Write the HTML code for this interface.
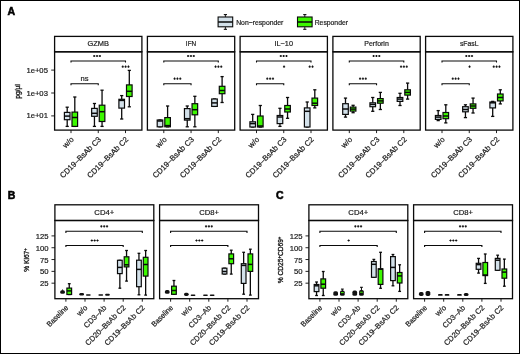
<!DOCTYPE html>
<html><head><meta charset="utf-8"><style>
html,body{margin:0;padding:0;background:#fff;}
svg{display:block;will-change:transform;}
text{font-family:"Liberation Sans", sans-serif;fill:#1a1a1a;stroke:#1a1a1a;stroke-width:0.2px;}
text.st{stroke-width:0.3px;}
text.yt{stroke-width:0.35px;}
text.pl{stroke-width:0.55px;fill:#000;stroke:#000;}
</style></head><body>
<svg width="520" height="354" viewBox="0 0 520 354">
<rect x="0" y="0" width="520" height="354" fill="#fff"/>
<rect x="54.60" y="36.40" width="87.30" height="15.40" fill="#fff" stroke="#0a0a0a" stroke-width="1.3"/>
<text transform="translate(98.25 46.00) scale(0.979 1)" font-size="7.6" text-anchor="middle">GZMB</text>
<rect x="54.60" y="51.80" width="87.30" height="78.30" fill="none" stroke="#0a0a0a" stroke-width="1.3"/>
<line x1="71.00" y1="130.10" x2="71.00" y2="133.10" stroke="#0a0a0a" stroke-width="0.9"/>
<line x1="67.20" y1="107.20" x2="67.20" y2="112.40" stroke="#0a0a0a" stroke-width="1.3"/>
<line x1="67.20" y1="119.70" x2="67.20" y2="126.40" stroke="#0a0a0a" stroke-width="1.3"/>
<line x1="65.60" y1="107.20" x2="68.80" y2="107.20" stroke="#0a0a0a" stroke-width="1.3"/>
<line x1="65.60" y1="126.40" x2="68.80" y2="126.40" stroke="#0a0a0a" stroke-width="1.3"/>
<rect x="64.40" y="112.40" width="5.60" height="7.30" fill="#d3e1ea" stroke="#0a0a0a" stroke-width="1.2"/>
<line x1="64.40" y1="116.10" x2="70.00" y2="116.10" stroke="#0a0a0a" stroke-width="1.5"/>
<line x1="74.80" y1="97.00" x2="74.80" y2="112.10" stroke="#0a0a0a" stroke-width="1.3"/>
<line x1="73.20" y1="97.00" x2="76.40" y2="97.00" stroke="#0a0a0a" stroke-width="1.3"/>
<line x1="73.20" y1="126.40" x2="76.40" y2="126.40" stroke="#0a0a0a" stroke-width="1.3"/>
<rect x="72.00" y="112.10" width="5.60" height="14.30" fill="#3cf800" stroke="#0a0a0a" stroke-width="1.2"/>
<line x1="72.00" y1="117.50" x2="77.60" y2="117.50" stroke="#0a0a0a" stroke-width="1.5"/>
<line x1="98.25" y1="130.10" x2="98.25" y2="133.10" stroke="#0a0a0a" stroke-width="0.9"/>
<line x1="94.45" y1="103.50" x2="94.45" y2="108.40" stroke="#0a0a0a" stroke-width="1.3"/>
<line x1="94.45" y1="116.30" x2="94.45" y2="126.40" stroke="#0a0a0a" stroke-width="1.3"/>
<line x1="92.85" y1="103.50" x2="96.05" y2="103.50" stroke="#0a0a0a" stroke-width="1.3"/>
<line x1="92.85" y1="126.40" x2="96.05" y2="126.40" stroke="#0a0a0a" stroke-width="1.3"/>
<rect x="91.65" y="108.40" width="5.60" height="7.90" fill="#d3e1ea" stroke="#0a0a0a" stroke-width="1.2"/>
<line x1="91.65" y1="113.30" x2="97.25" y2="113.30" stroke="#0a0a0a" stroke-width="1.5"/>
<line x1="102.05" y1="90.20" x2="102.05" y2="105.20" stroke="#0a0a0a" stroke-width="1.3"/>
<line x1="102.05" y1="121.50" x2="102.05" y2="126.40" stroke="#0a0a0a" stroke-width="1.3"/>
<line x1="100.45" y1="90.20" x2="103.65" y2="90.20" stroke="#0a0a0a" stroke-width="1.3"/>
<line x1="100.45" y1="126.40" x2="103.65" y2="126.40" stroke="#0a0a0a" stroke-width="1.3"/>
<rect x="99.25" y="105.20" width="5.60" height="16.30" fill="#3cf800" stroke="#0a0a0a" stroke-width="1.2"/>
<line x1="99.25" y1="111.70" x2="104.85" y2="111.70" stroke="#0a0a0a" stroke-width="1.5"/>
<line x1="125.50" y1="130.10" x2="125.50" y2="133.10" stroke="#0a0a0a" stroke-width="0.9"/>
<line x1="121.70" y1="95.60" x2="121.70" y2="99.30" stroke="#0a0a0a" stroke-width="1.3"/>
<line x1="121.70" y1="108.10" x2="121.70" y2="119.00" stroke="#0a0a0a" stroke-width="1.3"/>
<line x1="120.10" y1="95.60" x2="123.30" y2="95.60" stroke="#0a0a0a" stroke-width="1.3"/>
<line x1="120.10" y1="119.00" x2="123.30" y2="119.00" stroke="#0a0a0a" stroke-width="1.3"/>
<rect x="118.90" y="99.30" width="5.60" height="8.80" fill="#d3e1ea" stroke="#0a0a0a" stroke-width="1.2"/>
<line x1="118.90" y1="100.40" x2="124.50" y2="100.40" stroke="#0a0a0a" stroke-width="1.5"/>
<line x1="129.30" y1="70.40" x2="129.30" y2="84.90" stroke="#0a0a0a" stroke-width="1.3"/>
<line x1="129.30" y1="96.50" x2="129.30" y2="106.80" stroke="#0a0a0a" stroke-width="1.3"/>
<line x1="127.70" y1="70.40" x2="130.90" y2="70.40" stroke="#0a0a0a" stroke-width="1.3"/>
<line x1="127.70" y1="106.80" x2="130.90" y2="106.80" stroke="#0a0a0a" stroke-width="1.3"/>
<rect x="126.50" y="84.90" width="5.60" height="11.60" fill="#3cf800" stroke="#0a0a0a" stroke-width="1.2"/>
<line x1="126.50" y1="91.30" x2="132.10" y2="91.30" stroke="#0a0a0a" stroke-width="1.5"/>
<path d="M71.00 62.60V61.00H125.50V62.60" fill="none" stroke="#0a0a0a" stroke-width="1.1"/>
<path d="M93.10 56.00h2.2M94.20 54.90v2.2" stroke="#111" stroke-width="1.1"/>
<path d="M95.95 56.00h2.2M97.05 54.90v2.2" stroke="#111" stroke-width="1.1"/>
<path d="M98.80 56.00h2.2M99.90 54.90v2.2" stroke="#111" stroke-width="1.1"/>
<path d="M71.00 85.30V83.70H98.25V85.30" fill="none" stroke="#0a0a0a" stroke-width="1.1"/>
<text transform="translate(84.62 80.70)" font-size="7.6" text-anchor="middle">ns</text>
<path d="M121.65 66.70h2.2M122.75 65.60v2.2" stroke="#111" stroke-width="1.1"/>
<path d="M124.50 66.70h2.2M125.60 65.60v2.2" stroke="#111" stroke-width="1.1"/>
<path d="M127.35 66.70h2.2M128.45 65.60v2.2" stroke="#111" stroke-width="1.1"/>
<text transform="translate(74.40 139.90) rotate(-45)" font-size="7.75" text-anchor="end">w/o</text>
<text transform="translate(101.65 139.90) rotate(-45)" font-size="7.75" text-anchor="end">CD19–BsAb C3</text>
<text transform="translate(128.90 139.90) rotate(-45)" font-size="7.75" text-anchor="end">CD19–BsAb C2</text>
<rect x="147.40" y="36.40" width="87.30" height="15.40" fill="#fff" stroke="#0a0a0a" stroke-width="1.3"/>
<text transform="translate(191.05 46.00) scale(0.849 1)" font-size="7.6" text-anchor="middle">IFN</text>
<rect x="147.40" y="51.80" width="87.30" height="78.30" fill="none" stroke="#0a0a0a" stroke-width="1.3"/>
<line x1="163.80" y1="130.10" x2="163.80" y2="133.10" stroke="#0a0a0a" stroke-width="0.9"/>
<line x1="158.40" y1="120.00" x2="161.60" y2="120.00" stroke="#0a0a0a" stroke-width="1.3"/>
<line x1="158.40" y1="126.80" x2="161.60" y2="126.80" stroke="#0a0a0a" stroke-width="1.3"/>
<rect x="157.20" y="120.00" width="5.60" height="6.80" fill="#d3e1ea" stroke="#0a0a0a" stroke-width="1.2"/>
<line x1="157.20" y1="121.00" x2="162.80" y2="121.00" stroke="#0a0a0a" stroke-width="1.5"/>
<line x1="167.60" y1="106.00" x2="167.60" y2="117.60" stroke="#0a0a0a" stroke-width="1.3"/>
<line x1="166.00" y1="106.00" x2="169.20" y2="106.00" stroke="#0a0a0a" stroke-width="1.3"/>
<line x1="166.00" y1="126.80" x2="169.20" y2="126.80" stroke="#0a0a0a" stroke-width="1.3"/>
<rect x="164.80" y="117.60" width="5.60" height="9.20" fill="#3cf800" stroke="#0a0a0a" stroke-width="1.2"/>
<line x1="164.80" y1="125.60" x2="170.40" y2="125.60" stroke="#0a0a0a" stroke-width="1.5"/>
<line x1="191.05" y1="130.10" x2="191.05" y2="133.10" stroke="#0a0a0a" stroke-width="0.9"/>
<line x1="187.25" y1="106.00" x2="187.25" y2="108.60" stroke="#0a0a0a" stroke-width="1.3"/>
<line x1="187.25" y1="120.10" x2="187.25" y2="126.80" stroke="#0a0a0a" stroke-width="1.3"/>
<line x1="185.65" y1="106.00" x2="188.85" y2="106.00" stroke="#0a0a0a" stroke-width="1.3"/>
<line x1="185.65" y1="126.80" x2="188.85" y2="126.80" stroke="#0a0a0a" stroke-width="1.3"/>
<rect x="184.45" y="108.60" width="5.60" height="11.50" fill="#d3e1ea" stroke="#0a0a0a" stroke-width="1.2"/>
<line x1="184.45" y1="118.70" x2="190.05" y2="118.70" stroke="#0a0a0a" stroke-width="1.5"/>
<line x1="194.85" y1="96.30" x2="194.85" y2="103.70" stroke="#0a0a0a" stroke-width="1.3"/>
<line x1="194.85" y1="114.80" x2="194.85" y2="126.80" stroke="#0a0a0a" stroke-width="1.3"/>
<line x1="193.25" y1="96.30" x2="196.45" y2="96.30" stroke="#0a0a0a" stroke-width="1.3"/>
<line x1="193.25" y1="126.80" x2="196.45" y2="126.80" stroke="#0a0a0a" stroke-width="1.3"/>
<rect x="192.05" y="103.70" width="5.60" height="11.10" fill="#3cf800" stroke="#0a0a0a" stroke-width="1.2"/>
<line x1="192.05" y1="109.70" x2="197.65" y2="109.70" stroke="#0a0a0a" stroke-width="1.5"/>
<line x1="218.30" y1="130.10" x2="218.30" y2="133.10" stroke="#0a0a0a" stroke-width="0.9"/>
<line x1="212.90" y1="99.00" x2="216.10" y2="99.00" stroke="#0a0a0a" stroke-width="1.3"/>
<line x1="212.90" y1="106.40" x2="216.10" y2="106.40" stroke="#0a0a0a" stroke-width="1.3"/>
<rect x="211.70" y="99.00" width="5.60" height="7.40" fill="#d3e1ea" stroke="#0a0a0a" stroke-width="1.2"/>
<line x1="211.70" y1="102.90" x2="217.30" y2="102.90" stroke="#0a0a0a" stroke-width="1.5"/>
<line x1="222.10" y1="76.60" x2="222.10" y2="86.30" stroke="#0a0a0a" stroke-width="1.3"/>
<line x1="222.10" y1="93.70" x2="222.10" y2="102.50" stroke="#0a0a0a" stroke-width="1.3"/>
<line x1="220.50" y1="76.60" x2="223.70" y2="76.60" stroke="#0a0a0a" stroke-width="1.3"/>
<line x1="220.50" y1="102.50" x2="223.70" y2="102.50" stroke="#0a0a0a" stroke-width="1.3"/>
<rect x="219.30" y="86.30" width="5.60" height="7.40" fill="#3cf800" stroke="#0a0a0a" stroke-width="1.2"/>
<line x1="219.30" y1="90.50" x2="224.90" y2="90.50" stroke="#0a0a0a" stroke-width="1.5"/>
<path d="M163.80 62.60V61.00H218.30V62.60" fill="none" stroke="#0a0a0a" stroke-width="1.1"/>
<path d="M187.00 56.00h2.2M188.10 54.90v2.2" stroke="#111" stroke-width="1.1"/>
<path d="M189.85 56.00h2.2M190.95 54.90v2.2" stroke="#111" stroke-width="1.1"/>
<path d="M192.70 56.00h2.2M193.80 54.90v2.2" stroke="#111" stroke-width="1.1"/>
<path d="M163.80 85.30V83.70H191.05V85.30" fill="none" stroke="#0a0a0a" stroke-width="1.1"/>
<path d="M173.48 78.70h2.2M174.58 77.60v2.2" stroke="#111" stroke-width="1.1"/>
<path d="M176.33 78.70h2.2M177.43 77.60v2.2" stroke="#111" stroke-width="1.1"/>
<path d="M179.18 78.70h2.2M180.28 77.60v2.2" stroke="#111" stroke-width="1.1"/>
<path d="M214.45 66.70h2.2M215.55 65.60v2.2" stroke="#111" stroke-width="1.1"/>
<path d="M217.30 66.70h2.2M218.40 65.60v2.2" stroke="#111" stroke-width="1.1"/>
<path d="M220.15 66.70h2.2M221.25 65.60v2.2" stroke="#111" stroke-width="1.1"/>
<text transform="translate(167.20 139.90) rotate(-45)" font-size="7.75" text-anchor="end">w/o</text>
<text transform="translate(194.45 139.90) rotate(-45)" font-size="7.75" text-anchor="end">CD19–BsAb C3</text>
<text transform="translate(221.70 139.90) rotate(-45)" font-size="7.75" text-anchor="end">CD19–BsAb C2</text>
<rect x="240.10" y="36.40" width="87.30" height="15.40" fill="#fff" stroke="#0a0a0a" stroke-width="1.3"/>
<text transform="translate(283.75 46.00) scale(0.962 1)" font-size="7.6" text-anchor="middle">IL−10</text>
<rect x="240.10" y="51.80" width="87.30" height="78.30" fill="none" stroke="#0a0a0a" stroke-width="1.3"/>
<line x1="256.50" y1="130.10" x2="256.50" y2="133.10" stroke="#0a0a0a" stroke-width="0.9"/>
<line x1="252.70" y1="114.40" x2="252.70" y2="121.80" stroke="#0a0a0a" stroke-width="1.3"/>
<line x1="251.10" y1="114.40" x2="254.30" y2="114.40" stroke="#0a0a0a" stroke-width="1.3"/>
<line x1="251.10" y1="127.00" x2="254.30" y2="127.00" stroke="#0a0a0a" stroke-width="1.3"/>
<rect x="249.90" y="121.80" width="5.60" height="5.20" fill="#d3e1ea" stroke="#0a0a0a" stroke-width="1.2"/>
<line x1="249.90" y1="123.60" x2="255.50" y2="123.60" stroke="#0a0a0a" stroke-width="1.5"/>
<line x1="260.30" y1="105.50" x2="260.30" y2="116.00" stroke="#0a0a0a" stroke-width="1.3"/>
<line x1="258.70" y1="105.50" x2="261.90" y2="105.50" stroke="#0a0a0a" stroke-width="1.3"/>
<line x1="258.70" y1="127.00" x2="261.90" y2="127.00" stroke="#0a0a0a" stroke-width="1.3"/>
<rect x="257.50" y="116.00" width="5.60" height="11.00" fill="#3cf800" stroke="#0a0a0a" stroke-width="1.2"/>
<line x1="257.50" y1="126.00" x2="263.10" y2="126.00" stroke="#0a0a0a" stroke-width="1.5"/>
<line x1="283.75" y1="130.10" x2="283.75" y2="133.10" stroke="#0a0a0a" stroke-width="0.9"/>
<line x1="279.95" y1="108.30" x2="279.95" y2="115.50" stroke="#0a0a0a" stroke-width="1.3"/>
<line x1="279.95" y1="123.60" x2="279.95" y2="126.40" stroke="#0a0a0a" stroke-width="1.3"/>
<line x1="278.35" y1="108.30" x2="281.55" y2="108.30" stroke="#0a0a0a" stroke-width="1.3"/>
<line x1="278.35" y1="126.40" x2="281.55" y2="126.40" stroke="#0a0a0a" stroke-width="1.3"/>
<rect x="277.15" y="115.50" width="5.60" height="8.10" fill="#d3e1ea" stroke="#0a0a0a" stroke-width="1.2"/>
<line x1="277.15" y1="117.00" x2="282.75" y2="117.00" stroke="#0a0a0a" stroke-width="1.5"/>
<line x1="287.55" y1="97.50" x2="287.55" y2="105.50" stroke="#0a0a0a" stroke-width="1.3"/>
<line x1="287.55" y1="112.00" x2="287.55" y2="118.30" stroke="#0a0a0a" stroke-width="1.3"/>
<line x1="285.95" y1="97.50" x2="289.15" y2="97.50" stroke="#0a0a0a" stroke-width="1.3"/>
<line x1="285.95" y1="118.30" x2="289.15" y2="118.30" stroke="#0a0a0a" stroke-width="1.3"/>
<rect x="284.75" y="105.50" width="5.60" height="6.50" fill="#3cf800" stroke="#0a0a0a" stroke-width="1.2"/>
<line x1="284.75" y1="109.00" x2="290.35" y2="109.00" stroke="#0a0a0a" stroke-width="1.5"/>
<line x1="311.00" y1="130.10" x2="311.00" y2="133.10" stroke="#0a0a0a" stroke-width="0.9"/>
<line x1="307.20" y1="102.00" x2="307.20" y2="107.90" stroke="#0a0a0a" stroke-width="1.3"/>
<line x1="305.60" y1="102.00" x2="308.80" y2="102.00" stroke="#0a0a0a" stroke-width="1.3"/>
<line x1="305.60" y1="127.00" x2="308.80" y2="127.00" stroke="#0a0a0a" stroke-width="1.3"/>
<rect x="304.40" y="107.90" width="5.60" height="19.10" fill="#d3e1ea" stroke="#0a0a0a" stroke-width="1.2"/>
<line x1="304.40" y1="111.30" x2="310.00" y2="111.30" stroke="#0a0a0a" stroke-width="1.5"/>
<line x1="314.80" y1="89.80" x2="314.80" y2="98.10" stroke="#0a0a0a" stroke-width="1.3"/>
<line x1="314.80" y1="105.50" x2="314.80" y2="107.90" stroke="#0a0a0a" stroke-width="1.3"/>
<line x1="313.20" y1="89.80" x2="316.40" y2="89.80" stroke="#0a0a0a" stroke-width="1.3"/>
<line x1="313.20" y1="107.90" x2="316.40" y2="107.90" stroke="#0a0a0a" stroke-width="1.3"/>
<rect x="312.00" y="98.10" width="5.60" height="7.40" fill="#3cf800" stroke="#0a0a0a" stroke-width="1.2"/>
<line x1="312.00" y1="103.20" x2="317.60" y2="103.20" stroke="#0a0a0a" stroke-width="1.5"/>
<path d="M256.50 62.60V61.00H311.00V62.60" fill="none" stroke="#0a0a0a" stroke-width="1.1"/>
<path d="M279.70 56.00h2.2M280.80 54.90v2.2" stroke="#111" stroke-width="1.1"/>
<path d="M282.55 56.00h2.2M283.65 54.90v2.2" stroke="#111" stroke-width="1.1"/>
<path d="M285.40 56.00h2.2M286.50 54.90v2.2" stroke="#111" stroke-width="1.1"/>
<path d="M256.50 85.30V83.70H283.75V85.30" fill="none" stroke="#0a0a0a" stroke-width="1.1"/>
<path d="M266.17 78.70h2.2M267.27 77.60v2.2" stroke="#111" stroke-width="1.1"/>
<path d="M269.02 78.70h2.2M270.12 77.60v2.2" stroke="#111" stroke-width="1.1"/>
<path d="M271.87 78.70h2.2M272.97 77.60v2.2" stroke="#111" stroke-width="1.1"/>
<path d="M308.57 66.70h2.2M309.68 65.60v2.2" stroke="#111" stroke-width="1.1"/>
<path d="M311.43 66.70h2.2M312.53 65.60v2.2" stroke="#111" stroke-width="1.1"/>
<path d="M282.95 66.70h2.2M284.05 65.60v2.2" stroke="#111" stroke-width="1.1"/>
<text transform="translate(259.90 139.90) rotate(-45)" font-size="7.75" text-anchor="end">w/o</text>
<text transform="translate(287.15 139.90) rotate(-45)" font-size="7.75" text-anchor="end">CD19–BsAb C3</text>
<text transform="translate(314.40 139.90) rotate(-45)" font-size="7.75" text-anchor="end">CD19–BsAb C2</text>
<rect x="332.90" y="36.40" width="87.30" height="15.40" fill="#fff" stroke="#0a0a0a" stroke-width="1.3"/>
<text transform="translate(376.55 46.00) scale(0.921 1)" font-size="7.6" text-anchor="middle">Perforin</text>
<rect x="332.90" y="51.80" width="87.30" height="78.30" fill="none" stroke="#0a0a0a" stroke-width="1.3"/>
<line x1="349.30" y1="130.10" x2="349.30" y2="133.10" stroke="#0a0a0a" stroke-width="0.9"/>
<line x1="345.50" y1="98.10" x2="345.50" y2="103.70" stroke="#0a0a0a" stroke-width="1.3"/>
<line x1="345.50" y1="114.40" x2="345.50" y2="117.10" stroke="#0a0a0a" stroke-width="1.3"/>
<line x1="343.90" y1="98.10" x2="347.10" y2="98.10" stroke="#0a0a0a" stroke-width="1.3"/>
<line x1="343.90" y1="117.10" x2="347.10" y2="117.10" stroke="#0a0a0a" stroke-width="1.3"/>
<rect x="342.70" y="103.70" width="5.60" height="10.70" fill="#d3e1ea" stroke="#0a0a0a" stroke-width="1.2"/>
<line x1="342.70" y1="109.00" x2="348.30" y2="109.00" stroke="#0a0a0a" stroke-width="1.5"/>
<line x1="353.10" y1="105.30" x2="353.10" y2="107.10" stroke="#0a0a0a" stroke-width="1.3"/>
<line x1="353.10" y1="111.10" x2="353.10" y2="112.70" stroke="#0a0a0a" stroke-width="1.3"/>
<line x1="351.50" y1="105.30" x2="354.70" y2="105.30" stroke="#0a0a0a" stroke-width="1.3"/>
<line x1="351.50" y1="112.70" x2="354.70" y2="112.70" stroke="#0a0a0a" stroke-width="1.3"/>
<rect x="350.30" y="107.10" width="5.60" height="4.00" fill="#3cf800" stroke="#0a0a0a" stroke-width="1.2"/>
<line x1="350.30" y1="109.10" x2="355.90" y2="109.10" stroke="#0a0a0a" stroke-width="1.5"/>
<line x1="376.55" y1="130.10" x2="376.55" y2="133.10" stroke="#0a0a0a" stroke-width="0.9"/>
<line x1="372.75" y1="97.50" x2="372.75" y2="102.80" stroke="#0a0a0a" stroke-width="1.3"/>
<line x1="372.75" y1="106.70" x2="372.75" y2="111.30" stroke="#0a0a0a" stroke-width="1.3"/>
<line x1="371.15" y1="97.50" x2="374.35" y2="97.50" stroke="#0a0a0a" stroke-width="1.3"/>
<line x1="371.15" y1="111.30" x2="374.35" y2="111.30" stroke="#0a0a0a" stroke-width="1.3"/>
<rect x="369.95" y="102.80" width="5.60" height="3.90" fill="#d3e1ea" stroke="#0a0a0a" stroke-width="1.2"/>
<line x1="369.95" y1="104.40" x2="375.55" y2="104.40" stroke="#0a0a0a" stroke-width="1.5"/>
<line x1="380.35" y1="92.40" x2="380.35" y2="98.60" stroke="#0a0a0a" stroke-width="1.3"/>
<line x1="380.35" y1="103.20" x2="380.35" y2="109.50" stroke="#0a0a0a" stroke-width="1.3"/>
<line x1="378.75" y1="92.40" x2="381.95" y2="92.40" stroke="#0a0a0a" stroke-width="1.3"/>
<line x1="378.75" y1="109.50" x2="381.95" y2="109.50" stroke="#0a0a0a" stroke-width="1.3"/>
<rect x="377.55" y="98.60" width="5.60" height="4.60" fill="#3cf800" stroke="#0a0a0a" stroke-width="1.2"/>
<line x1="377.55" y1="100.90" x2="383.15" y2="100.90" stroke="#0a0a0a" stroke-width="1.5"/>
<line x1="403.80" y1="130.10" x2="403.80" y2="133.10" stroke="#0a0a0a" stroke-width="0.9"/>
<line x1="400.00" y1="93.30" x2="400.00" y2="97.50" stroke="#0a0a0a" stroke-width="1.3"/>
<line x1="400.00" y1="101.40" x2="400.00" y2="105.50" stroke="#0a0a0a" stroke-width="1.3"/>
<line x1="398.40" y1="93.30" x2="401.60" y2="93.30" stroke="#0a0a0a" stroke-width="1.3"/>
<line x1="398.40" y1="105.50" x2="401.60" y2="105.50" stroke="#0a0a0a" stroke-width="1.3"/>
<rect x="397.20" y="97.50" width="5.60" height="3.90" fill="#d3e1ea" stroke="#0a0a0a" stroke-width="1.2"/>
<line x1="397.20" y1="99.10" x2="402.80" y2="99.10" stroke="#0a0a0a" stroke-width="1.5"/>
<line x1="407.60" y1="83.10" x2="407.60" y2="89.80" stroke="#0a0a0a" stroke-width="1.3"/>
<line x1="407.60" y1="95.10" x2="407.60" y2="99.10" stroke="#0a0a0a" stroke-width="1.3"/>
<line x1="406.00" y1="83.10" x2="409.20" y2="83.10" stroke="#0a0a0a" stroke-width="1.3"/>
<line x1="406.00" y1="99.10" x2="409.20" y2="99.10" stroke="#0a0a0a" stroke-width="1.3"/>
<rect x="404.80" y="89.80" width="5.60" height="5.30" fill="#3cf800" stroke="#0a0a0a" stroke-width="1.2"/>
<line x1="404.80" y1="92.40" x2="410.40" y2="92.40" stroke="#0a0a0a" stroke-width="1.5"/>
<path d="M349.30 62.60V61.00H403.80V62.60" fill="none" stroke="#0a0a0a" stroke-width="1.1"/>
<path d="M372.50 56.00h2.2M373.60 54.90v2.2" stroke="#111" stroke-width="1.1"/>
<path d="M375.35 56.00h2.2M376.45 54.90v2.2" stroke="#111" stroke-width="1.1"/>
<path d="M378.20 56.00h2.2M379.30 54.90v2.2" stroke="#111" stroke-width="1.1"/>
<path d="M349.30 85.30V83.70H376.55V85.30" fill="none" stroke="#0a0a0a" stroke-width="1.1"/>
<path d="M358.97 78.70h2.2M360.07 77.60v2.2" stroke="#111" stroke-width="1.1"/>
<path d="M361.82 78.70h2.2M362.92 77.60v2.2" stroke="#111" stroke-width="1.1"/>
<path d="M364.67 78.70h2.2M365.77 77.60v2.2" stroke="#111" stroke-width="1.1"/>
<path d="M399.95 66.70h2.2M401.05 65.60v2.2" stroke="#111" stroke-width="1.1"/>
<path d="M402.80 66.70h2.2M403.90 65.60v2.2" stroke="#111" stroke-width="1.1"/>
<path d="M405.65 66.70h2.2M406.75 65.60v2.2" stroke="#111" stroke-width="1.1"/>
<text transform="translate(352.70 139.90) rotate(-45)" font-size="7.75" text-anchor="end">w/o</text>
<text transform="translate(379.95 139.90) rotate(-45)" font-size="7.75" text-anchor="end">CD19–BsAb C3</text>
<text transform="translate(407.20 139.90) rotate(-45)" font-size="7.75" text-anchor="end">CD19–BsAb C2</text>
<rect x="425.60" y="36.40" width="87.30" height="15.40" fill="#fff" stroke="#0a0a0a" stroke-width="1.3"/>
<text transform="translate(469.25 46.00) scale(0.899 1)" font-size="7.6" text-anchor="middle">sFasL</text>
<rect x="425.60" y="51.80" width="87.30" height="78.30" fill="none" stroke="#0a0a0a" stroke-width="1.3"/>
<line x1="442.00" y1="130.10" x2="442.00" y2="133.10" stroke="#0a0a0a" stroke-width="0.9"/>
<line x1="438.20" y1="110.60" x2="438.20" y2="115.50" stroke="#0a0a0a" stroke-width="1.3"/>
<line x1="438.20" y1="119.40" x2="438.20" y2="120.60" stroke="#0a0a0a" stroke-width="1.3"/>
<line x1="436.60" y1="110.60" x2="439.80" y2="110.60" stroke="#0a0a0a" stroke-width="1.3"/>
<line x1="436.60" y1="120.60" x2="439.80" y2="120.60" stroke="#0a0a0a" stroke-width="1.3"/>
<rect x="435.40" y="115.50" width="5.60" height="3.90" fill="#d3e1ea" stroke="#0a0a0a" stroke-width="1.2"/>
<line x1="435.40" y1="117.10" x2="441.00" y2="117.10" stroke="#0a0a0a" stroke-width="1.5"/>
<line x1="445.80" y1="104.80" x2="445.80" y2="112.50" stroke="#0a0a0a" stroke-width="1.3"/>
<line x1="445.80" y1="118.70" x2="445.80" y2="122.90" stroke="#0a0a0a" stroke-width="1.3"/>
<line x1="444.20" y1="104.80" x2="447.40" y2="104.80" stroke="#0a0a0a" stroke-width="1.3"/>
<line x1="444.20" y1="122.90" x2="447.40" y2="122.90" stroke="#0a0a0a" stroke-width="1.3"/>
<rect x="443.00" y="112.50" width="5.60" height="6.20" fill="#3cf800" stroke="#0a0a0a" stroke-width="1.2"/>
<line x1="443.00" y1="116.00" x2="448.60" y2="116.00" stroke="#0a0a0a" stroke-width="1.5"/>
<line x1="469.25" y1="130.10" x2="469.25" y2="133.10" stroke="#0a0a0a" stroke-width="0.9"/>
<line x1="465.45" y1="104.80" x2="465.45" y2="106.70" stroke="#0a0a0a" stroke-width="1.3"/>
<line x1="465.45" y1="111.80" x2="465.45" y2="117.60" stroke="#0a0a0a" stroke-width="1.3"/>
<line x1="463.85" y1="104.80" x2="467.05" y2="104.80" stroke="#0a0a0a" stroke-width="1.3"/>
<line x1="463.85" y1="117.60" x2="467.05" y2="117.60" stroke="#0a0a0a" stroke-width="1.3"/>
<rect x="462.65" y="106.70" width="5.60" height="5.10" fill="#d3e1ea" stroke="#0a0a0a" stroke-width="1.2"/>
<line x1="462.65" y1="109.50" x2="468.25" y2="109.50" stroke="#0a0a0a" stroke-width="1.5"/>
<line x1="473.05" y1="98.10" x2="473.05" y2="103.90" stroke="#0a0a0a" stroke-width="1.3"/>
<line x1="473.05" y1="108.30" x2="473.05" y2="113.00" stroke="#0a0a0a" stroke-width="1.3"/>
<line x1="471.45" y1="98.10" x2="474.65" y2="98.10" stroke="#0a0a0a" stroke-width="1.3"/>
<line x1="471.45" y1="113.00" x2="474.65" y2="113.00" stroke="#0a0a0a" stroke-width="1.3"/>
<rect x="470.25" y="103.90" width="5.60" height="4.40" fill="#3cf800" stroke="#0a0a0a" stroke-width="1.2"/>
<line x1="470.25" y1="106.00" x2="475.85" y2="106.00" stroke="#0a0a0a" stroke-width="1.5"/>
<line x1="496.50" y1="130.10" x2="496.50" y2="133.10" stroke="#0a0a0a" stroke-width="0.9"/>
<line x1="492.70" y1="101.40" x2="492.70" y2="102.00" stroke="#0a0a0a" stroke-width="1.3"/>
<line x1="492.70" y1="107.90" x2="492.70" y2="116.40" stroke="#0a0a0a" stroke-width="1.3"/>
<line x1="491.10" y1="101.40" x2="494.30" y2="101.40" stroke="#0a0a0a" stroke-width="1.3"/>
<line x1="491.10" y1="116.40" x2="494.30" y2="116.40" stroke="#0a0a0a" stroke-width="1.3"/>
<rect x="489.90" y="102.00" width="5.60" height="5.90" fill="#d3e1ea" stroke="#0a0a0a" stroke-width="1.2"/>
<line x1="489.90" y1="102.80" x2="495.50" y2="102.80" stroke="#0a0a0a" stroke-width="1.5"/>
<line x1="500.30" y1="89.80" x2="500.30" y2="94.00" stroke="#0a0a0a" stroke-width="1.3"/>
<line x1="500.30" y1="100.90" x2="500.30" y2="103.90" stroke="#0a0a0a" stroke-width="1.3"/>
<line x1="498.70" y1="89.80" x2="501.90" y2="89.80" stroke="#0a0a0a" stroke-width="1.3"/>
<line x1="498.70" y1="103.90" x2="501.90" y2="103.90" stroke="#0a0a0a" stroke-width="1.3"/>
<rect x="497.50" y="94.00" width="5.60" height="6.90" fill="#3cf800" stroke="#0a0a0a" stroke-width="1.2"/>
<line x1="497.50" y1="97.50" x2="503.10" y2="97.50" stroke="#0a0a0a" stroke-width="1.5"/>
<path d="M442.00 62.60V61.00H496.50V62.60" fill="none" stroke="#0a0a0a" stroke-width="1.1"/>
<path d="M465.20 56.00h2.2M466.30 54.90v2.2" stroke="#111" stroke-width="1.1"/>
<path d="M468.05 56.00h2.2M469.15 54.90v2.2" stroke="#111" stroke-width="1.1"/>
<path d="M470.90 56.00h2.2M472.00 54.90v2.2" stroke="#111" stroke-width="1.1"/>
<path d="M442.00 85.30V83.70H469.25V85.30" fill="none" stroke="#0a0a0a" stroke-width="1.1"/>
<path d="M451.67 78.70h2.2M452.77 77.60v2.2" stroke="#111" stroke-width="1.1"/>
<path d="M454.52 78.70h2.2M455.62 77.60v2.2" stroke="#111" stroke-width="1.1"/>
<path d="M457.37 78.70h2.2M458.47 77.60v2.2" stroke="#111" stroke-width="1.1"/>
<path d="M492.65 66.70h2.2M493.75 65.60v2.2" stroke="#111" stroke-width="1.1"/>
<path d="M495.50 66.70h2.2M496.60 65.60v2.2" stroke="#111" stroke-width="1.1"/>
<path d="M498.35 66.70h2.2M499.45 65.60v2.2" stroke="#111" stroke-width="1.1"/>
<path d="M468.45 66.70h2.2M469.55 65.60v2.2" stroke="#111" stroke-width="1.1"/>
<text transform="translate(445.40 139.90) rotate(-45)" font-size="7.75" text-anchor="end">w/o</text>
<text transform="translate(472.65 139.90) rotate(-45)" font-size="7.75" text-anchor="end">CD19–BsAb C3</text>
<text transform="translate(499.90 139.90) rotate(-45)" font-size="7.75" text-anchor="end">CD19–BsAb C2</text>
<line x1="51.20" y1="70.10" x2="54.60" y2="70.10" stroke="#0a0a0a" stroke-width="0.9"/>
<text transform="translate(47.90 72.60) scale(1.065 1)" font-size="7.2" text-anchor="end">1e+05</text>
<line x1="51.20" y1="93.00" x2="54.60" y2="93.00" stroke="#0a0a0a" stroke-width="0.9"/>
<text transform="translate(47.90 95.50) scale(1.065 1)" font-size="7.2" text-anchor="end">1e+03</text>
<line x1="51.20" y1="115.90" x2="54.60" y2="115.90" stroke="#0a0a0a" stroke-width="0.9"/>
<text transform="translate(47.90 118.40) scale(1.065 1)" font-size="7.2" text-anchor="end">1e+01</text>
<text transform="translate(20.30 91.40) rotate(-90) scale(0.85 1)" font-size="7.8" text-anchor="middle" class="yt">pg/µl</text>
<rect x="54.90" y="204.80" width="98.90" height="15.70" fill="#fff" stroke="#0a0a0a" stroke-width="1.3"/>
<text transform="translate(104.35 215.00) scale(1.018 1)" font-size="7.6" text-anchor="middle">CD4+</text>
<rect x="54.90" y="220.50" width="98.90" height="78.20" fill="none" stroke="#0a0a0a" stroke-width="1.3"/>
<line x1="65.90" y1="298.70" x2="65.90" y2="301.70" stroke="#0a0a0a" stroke-width="0.9"/>
<line x1="62.55" y1="289.50" x2="62.55" y2="290.70" stroke="#0a0a0a" stroke-width="1.0"/>
<rect x="60.20" y="290.20" width="4.70" height="3.60" rx="1.60" fill="#111"/>
<line x1="69.25" y1="283.70" x2="69.25" y2="288.10" stroke="#0a0a0a" stroke-width="1.3"/>
<line x1="67.85" y1="283.70" x2="70.65" y2="283.70" stroke="#0a0a0a" stroke-width="1.3"/>
<line x1="67.85" y1="294.50" x2="70.65" y2="294.50" stroke="#0a0a0a" stroke-width="1.3"/>
<rect x="66.90" y="288.10" width="4.70" height="6.40" fill="#3cf800" stroke="#0a0a0a" stroke-width="1.2"/>
<line x1="66.90" y1="290.90" x2="71.60" y2="290.90" stroke="#0a0a0a" stroke-width="1.5"/>
<line x1="85.00" y1="298.70" x2="85.00" y2="301.70" stroke="#0a0a0a" stroke-width="0.9"/>
<rect x="79.30" y="293.10" width="4.70" height="2.50" rx="1.25" fill="#111"/>
<rect x="86.00" y="294.30" width="4.70" height="1.50" rx="0.75" fill="#111"/>
<line x1="104.10" y1="298.70" x2="104.10" y2="301.70" stroke="#0a0a0a" stroke-width="0.9"/>
<rect x="98.40" y="294.30" width="4.70" height="1.50" rx="0.75" fill="#111"/>
<rect x="105.10" y="293.80" width="4.70" height="2.00" rx="1.00" fill="#111"/>
<line x1="123.20" y1="298.70" x2="123.20" y2="301.70" stroke="#0a0a0a" stroke-width="0.9"/>
<line x1="119.85" y1="273.60" x2="119.85" y2="288.20" stroke="#0a0a0a" stroke-width="1.3"/>
<line x1="118.45" y1="260.30" x2="121.25" y2="260.30" stroke="#0a0a0a" stroke-width="1.3"/>
<line x1="118.45" y1="288.20" x2="121.25" y2="288.20" stroke="#0a0a0a" stroke-width="1.3"/>
<rect x="117.50" y="260.30" width="4.70" height="13.30" fill="#d3e1ea" stroke="#0a0a0a" stroke-width="1.2"/>
<line x1="117.50" y1="267.40" x2="122.20" y2="267.40" stroke="#0a0a0a" stroke-width="1.5"/>
<line x1="126.55" y1="250.50" x2="126.55" y2="256.80" stroke="#0a0a0a" stroke-width="1.3"/>
<line x1="126.55" y1="266.90" x2="126.55" y2="281.10" stroke="#0a0a0a" stroke-width="1.3"/>
<line x1="125.15" y1="250.50" x2="127.95" y2="250.50" stroke="#0a0a0a" stroke-width="1.3"/>
<line x1="125.15" y1="281.10" x2="127.95" y2="281.10" stroke="#0a0a0a" stroke-width="1.3"/>
<rect x="124.20" y="256.80" width="4.70" height="10.10" fill="#3cf800" stroke="#0a0a0a" stroke-width="1.2"/>
<line x1="124.20" y1="264.80" x2="128.90" y2="264.80" stroke="#0a0a0a" stroke-width="1.5"/>
<line x1="142.30" y1="298.70" x2="142.30" y2="301.70" stroke="#0a0a0a" stroke-width="0.9"/>
<line x1="138.95" y1="253.30" x2="138.95" y2="260.20" stroke="#0a0a0a" stroke-width="1.3"/>
<line x1="138.95" y1="286.70" x2="138.95" y2="294.80" stroke="#0a0a0a" stroke-width="1.3"/>
<line x1="137.55" y1="253.30" x2="140.35" y2="253.30" stroke="#0a0a0a" stroke-width="1.3"/>
<line x1="137.55" y1="294.80" x2="140.35" y2="294.80" stroke="#0a0a0a" stroke-width="1.3"/>
<rect x="136.60" y="260.20" width="4.70" height="26.50" fill="#d3e1ea" stroke="#0a0a0a" stroke-width="1.2"/>
<line x1="136.60" y1="269.40" x2="141.30" y2="269.40" stroke="#0a0a0a" stroke-width="1.5"/>
<line x1="145.65" y1="250.50" x2="145.65" y2="257.30" stroke="#0a0a0a" stroke-width="1.3"/>
<line x1="145.65" y1="276.10" x2="145.65" y2="295.10" stroke="#0a0a0a" stroke-width="1.3"/>
<line x1="144.25" y1="250.50" x2="147.05" y2="250.50" stroke="#0a0a0a" stroke-width="1.3"/>
<line x1="144.25" y1="295.10" x2="147.05" y2="295.10" stroke="#0a0a0a" stroke-width="1.3"/>
<rect x="143.30" y="257.30" width="4.70" height="18.80" fill="#3cf800" stroke="#0a0a0a" stroke-width="1.2"/>
<line x1="143.30" y1="264.50" x2="148.00" y2="264.50" stroke="#0a0a0a" stroke-width="1.5"/>
<path d="M65.90 232.90V231.30H142.30V232.90" fill="none" stroke="#0a0a0a" stroke-width="1.1"/>
<path d="M100.25 226.30h2.2M101.35 225.20v2.2" stroke="#111" stroke-width="1.1"/>
<path d="M103.10 226.30h2.2M104.20 225.20v2.2" stroke="#111" stroke-width="1.1"/>
<path d="M105.95 226.30h2.2M107.05 225.20v2.2" stroke="#111" stroke-width="1.1"/>
<path d="M65.90 247.10V245.50H123.20V247.10" fill="none" stroke="#0a0a0a" stroke-width="1.1"/>
<path d="M90.70 240.50h2.2M91.80 239.40v2.2" stroke="#111" stroke-width="1.1"/>
<path d="M93.55 240.50h2.2M94.65 239.40v2.2" stroke="#111" stroke-width="1.1"/>
<path d="M96.40 240.50h2.2M97.50 239.40v2.2" stroke="#111" stroke-width="1.1"/>
<text transform="translate(68.90 308.20) rotate(-45) scale(0.93 1)" font-size="7.6" text-anchor="end">Baseline</text>
<text transform="translate(88.00 308.20) rotate(-45)" font-size="7.6" text-anchor="end">w/o</text>
<text transform="translate(107.10 308.20) rotate(-45)" font-size="7.6" text-anchor="end">CD3–Ab</text>
<text transform="translate(126.20 308.20) rotate(-45)" font-size="7.6" text-anchor="end">CD20–BsAb C2</text>
<text transform="translate(145.30 308.20) rotate(-45)" font-size="7.6" text-anchor="end">CD19–BsAb C2</text>
<rect x="159.60" y="204.80" width="98.90" height="15.70" fill="#fff" stroke="#0a0a0a" stroke-width="1.3"/>
<text transform="translate(209.05 215.00) scale(1.008 1)" font-size="7.6" text-anchor="middle">CD8+</text>
<rect x="159.60" y="220.50" width="98.90" height="78.20" fill="none" stroke="#0a0a0a" stroke-width="1.3"/>
<line x1="170.60" y1="298.70" x2="170.60" y2="301.70" stroke="#0a0a0a" stroke-width="0.9"/>
<rect x="164.90" y="290.00" width="4.70" height="3.80" rx="1.60" fill="#111"/>
<line x1="173.95" y1="280.50" x2="173.95" y2="286.20" stroke="#0a0a0a" stroke-width="1.3"/>
<line x1="172.55" y1="280.50" x2="175.35" y2="280.50" stroke="#0a0a0a" stroke-width="1.3"/>
<line x1="172.55" y1="294.30" x2="175.35" y2="294.30" stroke="#0a0a0a" stroke-width="1.3"/>
<rect x="171.60" y="286.20" width="4.70" height="8.10" fill="#3cf800" stroke="#0a0a0a" stroke-width="1.2"/>
<line x1="171.60" y1="290.50" x2="176.30" y2="290.50" stroke="#0a0a0a" stroke-width="1.5"/>
<line x1="189.70" y1="298.70" x2="189.70" y2="301.70" stroke="#0a0a0a" stroke-width="0.9"/>
<rect x="184.00" y="292.70" width="4.70" height="3.20" rx="1.60" fill="#111"/>
<rect x="190.70" y="294.50" width="4.70" height="1.50" rx="0.75" fill="#111"/>
<line x1="208.80" y1="298.70" x2="208.80" y2="301.70" stroke="#0a0a0a" stroke-width="0.9"/>
<rect x="203.10" y="294.50" width="4.70" height="1.50" rx="0.75" fill="#111"/>
<rect x="209.80" y="294.50" width="4.70" height="1.50" rx="0.75" fill="#111"/>
<line x1="227.90" y1="298.70" x2="227.90" y2="301.70" stroke="#0a0a0a" stroke-width="0.9"/>
<line x1="223.15" y1="268.20" x2="225.95" y2="268.20" stroke="#0a0a0a" stroke-width="1.3"/>
<line x1="223.15" y1="274.00" x2="225.95" y2="274.00" stroke="#0a0a0a" stroke-width="1.3"/>
<rect x="222.20" y="268.20" width="4.70" height="5.80" fill="#d3e1ea" stroke="#0a0a0a" stroke-width="1.2"/>
<line x1="222.20" y1="271.50" x2="226.90" y2="271.50" stroke="#0a0a0a" stroke-width="1.5"/>
<line x1="231.25" y1="250.20" x2="231.25" y2="253.90" stroke="#0a0a0a" stroke-width="1.3"/>
<line x1="231.25" y1="263.70" x2="231.25" y2="274.10" stroke="#0a0a0a" stroke-width="1.3"/>
<line x1="229.85" y1="250.20" x2="232.65" y2="250.20" stroke="#0a0a0a" stroke-width="1.3"/>
<line x1="229.85" y1="274.10" x2="232.65" y2="274.10" stroke="#0a0a0a" stroke-width="1.3"/>
<rect x="228.90" y="253.90" width="4.70" height="9.80" fill="#3cf800" stroke="#0a0a0a" stroke-width="1.2"/>
<line x1="228.90" y1="258.80" x2="233.60" y2="258.80" stroke="#0a0a0a" stroke-width="1.5"/>
<line x1="247.00" y1="298.70" x2="247.00" y2="301.70" stroke="#0a0a0a" stroke-width="0.9"/>
<line x1="243.65" y1="252.30" x2="243.65" y2="263.70" stroke="#0a0a0a" stroke-width="1.3"/>
<line x1="243.65" y1="283.40" x2="243.65" y2="294.20" stroke="#0a0a0a" stroke-width="1.3"/>
<line x1="242.25" y1="252.30" x2="245.05" y2="252.30" stroke="#0a0a0a" stroke-width="1.3"/>
<line x1="242.25" y1="294.20" x2="245.05" y2="294.20" stroke="#0a0a0a" stroke-width="1.3"/>
<rect x="241.30" y="263.70" width="4.70" height="19.70" fill="#d3e1ea" stroke="#0a0a0a" stroke-width="1.2"/>
<line x1="241.30" y1="265.40" x2="246.00" y2="265.40" stroke="#0a0a0a" stroke-width="1.5"/>
<line x1="250.35" y1="249.20" x2="250.35" y2="253.90" stroke="#0a0a0a" stroke-width="1.3"/>
<line x1="250.35" y1="271.40" x2="250.35" y2="295.10" stroke="#0a0a0a" stroke-width="1.3"/>
<line x1="248.95" y1="249.20" x2="251.75" y2="249.20" stroke="#0a0a0a" stroke-width="1.3"/>
<line x1="248.95" y1="295.10" x2="251.75" y2="295.10" stroke="#0a0a0a" stroke-width="1.3"/>
<rect x="248.00" y="253.90" width="4.70" height="17.50" fill="#3cf800" stroke="#0a0a0a" stroke-width="1.2"/>
<line x1="248.00" y1="264.40" x2="252.70" y2="264.40" stroke="#0a0a0a" stroke-width="1.5"/>
<path d="M170.60 232.90V231.30H247.00V232.90" fill="none" stroke="#0a0a0a" stroke-width="1.1"/>
<path d="M204.95 226.30h2.2M206.05 225.20v2.2" stroke="#111" stroke-width="1.1"/>
<path d="M207.80 226.30h2.2M208.90 225.20v2.2" stroke="#111" stroke-width="1.1"/>
<path d="M210.65 226.30h2.2M211.75 225.20v2.2" stroke="#111" stroke-width="1.1"/>
<path d="M170.60 247.10V245.50H227.90V247.10" fill="none" stroke="#0a0a0a" stroke-width="1.1"/>
<path d="M195.40 240.50h2.2M196.50 239.40v2.2" stroke="#111" stroke-width="1.1"/>
<path d="M198.25 240.50h2.2M199.35 239.40v2.2" stroke="#111" stroke-width="1.1"/>
<path d="M201.10 240.50h2.2M202.20 239.40v2.2" stroke="#111" stroke-width="1.1"/>
<text transform="translate(173.60 308.20) rotate(-45) scale(0.93 1)" font-size="7.6" text-anchor="end">Baseline</text>
<text transform="translate(192.70 308.20) rotate(-45)" font-size="7.6" text-anchor="end">w/o</text>
<text transform="translate(211.80 308.20) rotate(-45)" font-size="7.6" text-anchor="end">CD3–Ab</text>
<text transform="translate(230.90 308.20) rotate(-45)" font-size="7.6" text-anchor="end">CD20–BsAb C2</text>
<text transform="translate(250.00 308.20) rotate(-45)" font-size="7.6" text-anchor="end">CD19–BsAb C2</text>
<rect x="308.90" y="204.80" width="98.90" height="15.70" fill="#fff" stroke="#0a0a0a" stroke-width="1.3"/>
<text transform="translate(358.35 215.00) scale(1.018 1)" font-size="7.6" text-anchor="middle">CD4+</text>
<rect x="308.90" y="220.50" width="98.90" height="78.20" fill="none" stroke="#0a0a0a" stroke-width="1.3"/>
<line x1="319.90" y1="298.70" x2="319.90" y2="301.70" stroke="#0a0a0a" stroke-width="0.9"/>
<line x1="316.55" y1="282.00" x2="316.55" y2="284.50" stroke="#0a0a0a" stroke-width="1.3"/>
<line x1="316.55" y1="291.60" x2="316.55" y2="295.50" stroke="#0a0a0a" stroke-width="1.3"/>
<line x1="315.15" y1="282.00" x2="317.95" y2="282.00" stroke="#0a0a0a" stroke-width="1.3"/>
<line x1="315.15" y1="295.50" x2="317.95" y2="295.50" stroke="#0a0a0a" stroke-width="1.3"/>
<rect x="314.20" y="284.50" width="4.70" height="7.10" fill="#d3e1ea" stroke="#0a0a0a" stroke-width="1.2"/>
<line x1="314.20" y1="285.80" x2="318.90" y2="285.80" stroke="#0a0a0a" stroke-width="1.5"/>
<line x1="323.25" y1="271.50" x2="323.25" y2="278.90" stroke="#0a0a0a" stroke-width="1.3"/>
<line x1="323.25" y1="288.20" x2="323.25" y2="295.50" stroke="#0a0a0a" stroke-width="1.3"/>
<line x1="321.85" y1="271.50" x2="324.65" y2="271.50" stroke="#0a0a0a" stroke-width="1.3"/>
<line x1="321.85" y1="295.50" x2="324.65" y2="295.50" stroke="#0a0a0a" stroke-width="1.3"/>
<rect x="320.90" y="278.90" width="4.70" height="9.30" fill="#3cf800" stroke="#0a0a0a" stroke-width="1.2"/>
<line x1="320.90" y1="284.20" x2="325.60" y2="284.20" stroke="#0a0a0a" stroke-width="1.5"/>
<line x1="339.00" y1="298.70" x2="339.00" y2="301.70" stroke="#0a0a0a" stroke-width="0.9"/>
<rect x="333.30" y="291.20" width="4.70" height="4.60" rx="1.60" fill="#111"/>
<line x1="342.35" y1="289.10" x2="342.35" y2="291.10" stroke="#0a0a0a" stroke-width="1.0"/>
<line x1="340.95" y1="289.10" x2="343.75" y2="289.10" stroke="#0a0a0a" stroke-width="1.1"/>
<rect x="340.00" y="290.60" width="4.70" height="5.20" rx="1.6" fill="#111"/>
<line x1="341.00" y1="292.58" x2="343.70" y2="292.58" stroke="#3cf800" stroke-width="1.0"/>
<line x1="358.10" y1="298.70" x2="358.10" y2="301.70" stroke="#0a0a0a" stroke-width="0.9"/>
<rect x="352.40" y="290.60" width="4.70" height="5.20" rx="1.60" fill="#111"/>
<line x1="361.45" y1="287.30" x2="361.45" y2="290.50" stroke="#0a0a0a" stroke-width="1.0"/>
<line x1="360.05" y1="287.30" x2="362.85" y2="287.30" stroke="#0a0a0a" stroke-width="1.1"/>
<rect x="359.10" y="290.00" width="4.70" height="5.80" rx="1.6" fill="#111"/>
<line x1="360.10" y1="292.20" x2="362.80" y2="292.20" stroke="#3cf800" stroke-width="1.0"/>
<line x1="377.20" y1="298.70" x2="377.20" y2="301.70" stroke="#0a0a0a" stroke-width="0.9"/>
<line x1="373.85" y1="259.40" x2="373.85" y2="261.50" stroke="#0a0a0a" stroke-width="1.3"/>
<line x1="372.45" y1="259.40" x2="375.25" y2="259.40" stroke="#0a0a0a" stroke-width="1.3"/>
<line x1="372.45" y1="277.30" x2="375.25" y2="277.30" stroke="#0a0a0a" stroke-width="1.3"/>
<rect x="371.50" y="261.50" width="4.70" height="15.80" fill="#d3e1ea" stroke="#0a0a0a" stroke-width="1.2"/>
<line x1="371.50" y1="264.30" x2="376.20" y2="264.30" stroke="#0a0a0a" stroke-width="1.5"/>
<line x1="380.55" y1="252.30" x2="380.55" y2="268.80" stroke="#0a0a0a" stroke-width="1.3"/>
<line x1="380.55" y1="284.40" x2="380.55" y2="288.30" stroke="#0a0a0a" stroke-width="1.3"/>
<line x1="379.15" y1="252.30" x2="381.95" y2="252.30" stroke="#0a0a0a" stroke-width="1.3"/>
<line x1="379.15" y1="288.30" x2="381.95" y2="288.30" stroke="#0a0a0a" stroke-width="1.3"/>
<rect x="378.20" y="268.80" width="4.70" height="15.60" fill="#3cf800" stroke="#0a0a0a" stroke-width="1.2"/>
<line x1="378.20" y1="269.20" x2="382.90" y2="269.20" stroke="#0a0a0a" stroke-width="1.5"/>
<line x1="396.30" y1="298.70" x2="396.30" y2="301.70" stroke="#0a0a0a" stroke-width="0.9"/>
<line x1="392.95" y1="254.50" x2="392.95" y2="256.60" stroke="#0a0a0a" stroke-width="1.3"/>
<line x1="392.95" y1="280.60" x2="392.95" y2="285.80" stroke="#0a0a0a" stroke-width="1.3"/>
<line x1="391.55" y1="254.50" x2="394.35" y2="254.50" stroke="#0a0a0a" stroke-width="1.3"/>
<line x1="391.55" y1="285.80" x2="394.35" y2="285.80" stroke="#0a0a0a" stroke-width="1.3"/>
<rect x="390.60" y="256.60" width="4.70" height="24.00" fill="#d3e1ea" stroke="#0a0a0a" stroke-width="1.2"/>
<line x1="390.60" y1="267.40" x2="395.30" y2="267.40" stroke="#0a0a0a" stroke-width="1.5"/>
<line x1="399.65" y1="264.80" x2="399.65" y2="272.50" stroke="#0a0a0a" stroke-width="1.3"/>
<line x1="399.65" y1="283.00" x2="399.65" y2="291.40" stroke="#0a0a0a" stroke-width="1.3"/>
<line x1="398.25" y1="264.80" x2="401.05" y2="264.80" stroke="#0a0a0a" stroke-width="1.3"/>
<line x1="398.25" y1="291.40" x2="401.05" y2="291.40" stroke="#0a0a0a" stroke-width="1.3"/>
<rect x="397.30" y="272.50" width="4.70" height="10.50" fill="#3cf800" stroke="#0a0a0a" stroke-width="1.2"/>
<line x1="397.30" y1="275.90" x2="402.00" y2="275.90" stroke="#0a0a0a" stroke-width="1.5"/>
<path d="M319.90 232.90V231.30H396.30V232.90" fill="none" stroke="#0a0a0a" stroke-width="1.1"/>
<path d="M354.25 226.30h2.2M355.35 225.20v2.2" stroke="#111" stroke-width="1.1"/>
<path d="M357.10 226.30h2.2M358.20 225.20v2.2" stroke="#111" stroke-width="1.1"/>
<path d="M359.95 226.30h2.2M361.05 225.20v2.2" stroke="#111" stroke-width="1.1"/>
<path d="M319.90 247.10V245.50H377.20V247.10" fill="none" stroke="#0a0a0a" stroke-width="1.1"/>
<path d="M347.55 240.50h2.2M348.65 239.40v2.2" stroke="#111" stroke-width="1.1"/>
<text transform="translate(322.90 308.20) rotate(-45) scale(0.93 1)" font-size="7.6" text-anchor="end">Baseline</text>
<text transform="translate(342.00 308.20) rotate(-45)" font-size="7.6" text-anchor="end">w/o</text>
<text transform="translate(361.10 308.20) rotate(-45)" font-size="7.6" text-anchor="end">CD3–Ab</text>
<text transform="translate(380.20 308.20) rotate(-45)" font-size="7.6" text-anchor="end">CD20–BsAb C2</text>
<text transform="translate(399.30 308.20) rotate(-45)" font-size="7.6" text-anchor="end">CD19–BsAb C2</text>
<rect x="413.60" y="204.80" width="98.90" height="15.70" fill="#fff" stroke="#0a0a0a" stroke-width="1.3"/>
<text transform="translate(463.05 215.00) scale(1.008 1)" font-size="7.6" text-anchor="middle">CD8+</text>
<rect x="413.60" y="220.50" width="98.90" height="78.20" fill="none" stroke="#0a0a0a" stroke-width="1.3"/>
<line x1="424.60" y1="298.70" x2="424.60" y2="301.70" stroke="#0a0a0a" stroke-width="0.9"/>
<rect x="418.90" y="292.10" width="4.70" height="3.80" rx="1.60" fill="#111"/>
<rect x="425.60" y="291.00" width="4.70" height="4.90" rx="1.60" fill="#111"/>
<line x1="443.70" y1="298.70" x2="443.70" y2="301.70" stroke="#0a0a0a" stroke-width="0.9"/>
<rect x="438.00" y="294.00" width="4.70" height="1.80" rx="0.90" fill="#111"/>
<rect x="444.70" y="294.00" width="4.70" height="1.80" rx="0.90" fill="#111"/>
<line x1="462.80" y1="298.70" x2="462.80" y2="301.70" stroke="#0a0a0a" stroke-width="0.9"/>
<rect x="457.10" y="294.00" width="4.70" height="1.80" rx="0.90" fill="#111"/>
<rect x="463.80" y="292.90" width="4.70" height="3.00" rx="1.50" fill="#111"/>
<line x1="481.90" y1="298.70" x2="481.90" y2="301.70" stroke="#0a0a0a" stroke-width="0.9"/>
<line x1="478.55" y1="258.40" x2="478.55" y2="263.30" stroke="#0a0a0a" stroke-width="1.3"/>
<line x1="478.55" y1="269.30" x2="478.55" y2="273.10" stroke="#0a0a0a" stroke-width="1.3"/>
<line x1="477.15" y1="258.40" x2="479.95" y2="258.40" stroke="#0a0a0a" stroke-width="1.3"/>
<line x1="477.15" y1="273.10" x2="479.95" y2="273.10" stroke="#0a0a0a" stroke-width="1.3"/>
<rect x="476.20" y="263.30" width="4.70" height="6.00" fill="#d3e1ea" stroke="#0a0a0a" stroke-width="1.2"/>
<line x1="476.20" y1="264.60" x2="480.90" y2="264.60" stroke="#0a0a0a" stroke-width="1.5"/>
<line x1="485.25" y1="254.00" x2="485.25" y2="262.50" stroke="#0a0a0a" stroke-width="1.3"/>
<line x1="485.25" y1="275.60" x2="485.25" y2="283.40" stroke="#0a0a0a" stroke-width="1.3"/>
<line x1="483.85" y1="254.00" x2="486.65" y2="254.00" stroke="#0a0a0a" stroke-width="1.3"/>
<line x1="483.85" y1="283.40" x2="486.65" y2="283.40" stroke="#0a0a0a" stroke-width="1.3"/>
<rect x="482.90" y="262.50" width="4.70" height="13.10" fill="#3cf800" stroke="#0a0a0a" stroke-width="1.2"/>
<line x1="482.90" y1="275.00" x2="487.60" y2="275.00" stroke="#0a0a0a" stroke-width="1.5"/>
<line x1="501.00" y1="298.70" x2="501.00" y2="301.70" stroke="#0a0a0a" stroke-width="0.9"/>
<line x1="497.65" y1="255.20" x2="497.65" y2="258.40" stroke="#0a0a0a" stroke-width="1.3"/>
<line x1="496.25" y1="255.20" x2="499.05" y2="255.20" stroke="#0a0a0a" stroke-width="1.3"/>
<line x1="496.25" y1="270.30" x2="499.05" y2="270.30" stroke="#0a0a0a" stroke-width="1.3"/>
<rect x="495.30" y="258.40" width="4.70" height="11.90" fill="#d3e1ea" stroke="#0a0a0a" stroke-width="1.2"/>
<line x1="495.30" y1="260.20" x2="500.00" y2="260.20" stroke="#0a0a0a" stroke-width="1.5"/>
<line x1="504.35" y1="259.10" x2="504.35" y2="269.00" stroke="#0a0a0a" stroke-width="1.3"/>
<line x1="504.35" y1="278.20" x2="504.35" y2="286.20" stroke="#0a0a0a" stroke-width="1.3"/>
<line x1="502.95" y1="259.10" x2="505.75" y2="259.10" stroke="#0a0a0a" stroke-width="1.3"/>
<line x1="502.95" y1="286.20" x2="505.75" y2="286.20" stroke="#0a0a0a" stroke-width="1.3"/>
<rect x="502.00" y="269.00" width="4.70" height="9.20" fill="#3cf800" stroke="#0a0a0a" stroke-width="1.2"/>
<line x1="502.00" y1="272.10" x2="506.70" y2="272.10" stroke="#0a0a0a" stroke-width="1.5"/>
<path d="M424.60 232.90V231.30H501.00V232.90" fill="none" stroke="#0a0a0a" stroke-width="1.1"/>
<path d="M458.95 226.30h2.2M460.05 225.20v2.2" stroke="#111" stroke-width="1.1"/>
<path d="M461.80 226.30h2.2M462.90 225.20v2.2" stroke="#111" stroke-width="1.1"/>
<path d="M464.65 226.30h2.2M465.75 225.20v2.2" stroke="#111" stroke-width="1.1"/>
<path d="M424.60 247.10V245.50H481.90V247.10" fill="none" stroke="#0a0a0a" stroke-width="1.1"/>
<path d="M449.40 240.50h2.2M450.50 239.40v2.2" stroke="#111" stroke-width="1.1"/>
<path d="M452.25 240.50h2.2M453.35 239.40v2.2" stroke="#111" stroke-width="1.1"/>
<path d="M455.10 240.50h2.2M456.20 239.40v2.2" stroke="#111" stroke-width="1.1"/>
<text transform="translate(427.60 308.20) rotate(-45) scale(0.93 1)" font-size="7.6" text-anchor="end">Baseline</text>
<text transform="translate(446.70 308.20) rotate(-45)" font-size="7.6" text-anchor="end">w/o</text>
<text transform="translate(465.80 308.20) rotate(-45)" font-size="7.6" text-anchor="end">CD3–Ab</text>
<text transform="translate(484.90 308.20) rotate(-45)" font-size="7.6" text-anchor="end">CD20–BsAb C2</text>
<text transform="translate(504.00 308.20) rotate(-45)" font-size="7.6" text-anchor="end">CD19–BsAb C2</text>
<line x1="51.50" y1="283.18" x2="54.90" y2="283.18" stroke="#0a0a0a" stroke-width="0.9"/>
<text transform="translate(48.40 286.18) scale(1.065 1)" font-size="7.2" text-anchor="end">25</text>
<line x1="51.50" y1="271.36" x2="54.90" y2="271.36" stroke="#0a0a0a" stroke-width="0.9"/>
<text transform="translate(48.40 274.36) scale(1.065 1)" font-size="7.2" text-anchor="end">50</text>
<line x1="51.50" y1="259.54" x2="54.90" y2="259.54" stroke="#0a0a0a" stroke-width="0.9"/>
<text transform="translate(48.40 262.54) scale(1.065 1)" font-size="7.2" text-anchor="end">75</text>
<line x1="51.50" y1="247.72" x2="54.90" y2="247.72" stroke="#0a0a0a" stroke-width="0.9"/>
<text transform="translate(48.40 250.72) scale(1.065 1)" font-size="7.2" text-anchor="end">100</text>
<line x1="51.50" y1="235.90" x2="54.90" y2="235.90" stroke="#0a0a0a" stroke-width="0.9"/>
<text transform="translate(48.40 238.90) scale(1.065 1)" font-size="7.2" text-anchor="end">125</text>
<line x1="305.50" y1="283.18" x2="308.90" y2="283.18" stroke="#0a0a0a" stroke-width="0.9"/>
<text transform="translate(302.40 286.18) scale(1.065 1)" font-size="7.2" text-anchor="end">25</text>
<line x1="305.50" y1="271.36" x2="308.90" y2="271.36" stroke="#0a0a0a" stroke-width="0.9"/>
<text transform="translate(302.40 274.36) scale(1.065 1)" font-size="7.2" text-anchor="end">50</text>
<line x1="305.50" y1="259.54" x2="308.90" y2="259.54" stroke="#0a0a0a" stroke-width="0.9"/>
<text transform="translate(302.40 262.54) scale(1.065 1)" font-size="7.2" text-anchor="end">75</text>
<line x1="305.50" y1="247.72" x2="308.90" y2="247.72" stroke="#0a0a0a" stroke-width="0.9"/>
<text transform="translate(302.40 250.72) scale(1.065 1)" font-size="7.2" text-anchor="end">100</text>
<line x1="305.50" y1="235.90" x2="308.90" y2="235.90" stroke="#0a0a0a" stroke-width="0.9"/>
<text transform="translate(302.40 238.90) scale(1.065 1)" font-size="7.2" text-anchor="end">125</text>
<text transform="translate(29.20 259.90) rotate(-90) scale(0.85 1)" font-size="7.8" text-anchor="middle" class="yt">% Ki67<tspan font-size="5.2" dy="-2.6">+</tspan></text>
<text transform="translate(283.20 259.90) rotate(-90) scale(0.85 1)" font-size="7.8" text-anchor="middle" class="yt">% CD25<tspan font-size="5" dy="-2.5">+</tspan><tspan dy="2.5">CD69</tspan><tspan font-size="5" dy="-2.5">+</tspan></text>
<text transform="translate(7.60 15.40)" font-size="10.5" font-weight="bold" class="pl">A</text>
<text transform="translate(7.70 198.60)" font-size="10.5" font-weight="bold" class="pl">B</text>
<text transform="translate(276.00 198.60)" font-size="10.5" font-weight="bold" class="pl">C</text>
<line x1="225.40" y1="14.60" x2="225.40" y2="17.00" stroke="#0a0a0a" stroke-width="0.9"/>
<line x1="225.40" y1="26.80" x2="225.40" y2="29.30" stroke="#0a0a0a" stroke-width="0.9"/>
<line x1="223.80" y1="14.60" x2="227.00" y2="14.60" stroke="#0a0a0a" stroke-width="1.1"/>
<line x1="223.80" y1="29.30" x2="227.00" y2="29.30" stroke="#0a0a0a" stroke-width="1.1"/>
<rect x="218.10" y="17.00" width="14.60" height="9.80" fill="#d3e1ea" stroke="#0a0a0a" stroke-width="1.1"/>
<line x1="218.10" y1="22.00" x2="232.70" y2="22.00" stroke="#0a0a0a" stroke-width="1.5"/>
<text transform="translate(236.20 24.80) scale(0.935 1)" font-size="7.3">Non−responder</text>
<line x1="304.80" y1="14.60" x2="304.80" y2="17.00" stroke="#0a0a0a" stroke-width="0.9"/>
<line x1="304.80" y1="26.80" x2="304.80" y2="29.30" stroke="#0a0a0a" stroke-width="0.9"/>
<line x1="303.20" y1="14.60" x2="306.40" y2="14.60" stroke="#0a0a0a" stroke-width="1.1"/>
<line x1="303.20" y1="29.30" x2="306.40" y2="29.30" stroke="#0a0a0a" stroke-width="1.1"/>
<rect x="297.50" y="17.00" width="14.60" height="9.80" fill="#3cf800" stroke="#0a0a0a" stroke-width="1.1"/>
<line x1="297.50" y1="22.00" x2="312.10" y2="22.00" stroke="#0a0a0a" stroke-width="1.5"/>
<text transform="translate(314.70 24.80) scale(0.935 1)" font-size="7.3">Responder</text>
<rect x="0.5" y="0.5" width="519" height="353" fill="none" stroke="#000" stroke-width="1"/>
</svg>
</body></html>
